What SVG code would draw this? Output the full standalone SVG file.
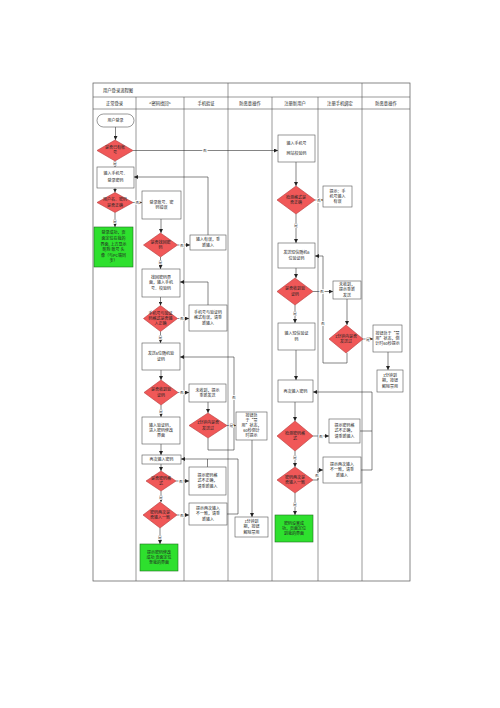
<svg xmlns="http://www.w3.org/2000/svg" width="500" height="708" viewBox="0 0 500 708">
<defs>
<marker id="ar" markerUnits="userSpaceOnUse" markerWidth="4" markerHeight="4" refX="4" refY="2" orient="auto"><path d="M0,0 L4,2 L0,4 z" fill="#222"/></marker>
<style>
.frame{fill:none;stroke:#555;stroke-width:0.7}
.ln{stroke:#555;stroke-width:0.6;fill:none}
.box{fill:#fff;stroke:#555;stroke-width:0.6}
.dia{fill:#f05858;stroke:#b53a3a;stroke-width:0.6}
.ok{fill:#2ee02e;stroke:#1e6e1e;stroke-width:0.6}
.t{font-family:"Noto Sans CJK SC","Noto Sans",sans-serif;font-size:4px;fill:#222;text-anchor:middle}
.h{font-family:"Noto Sans CJK SC","Noto Sans",sans-serif;font-size:4.3px;fill:#222;text-anchor:middle}
.c{stroke:#333;stroke-width:0.6;fill:none;marker-end:url(#ar)}
.cn{stroke:#333;stroke-width:0.6;fill:none}
.l{font-family:"Noto Sans CJK SC","Noto Sans",sans-serif;font-size:3.8px;fill:#333;text-anchor:middle;stroke:#fff;stroke-width:1.4;paint-order:stroke}
</style>
</defs>
<rect width="500" height="708" fill="#fff"/>
<g id="swimlanes">
<rect class="frame" x="93" y="83" width="317" height="498"/>
<line class="ln" x1="93" y1="97" x2="410" y2="97"/>
<line class="ln" x1="93" y1="109" x2="410" y2="109"/>
<line class="ln" x1="136" y1="97" x2="136" y2="581"/>
<line class="ln" x1="184" y1="97" x2="184" y2="581"/>
<line class="ln" x1="228" y1="83" x2="228" y2="581"/>
<line class="ln" x1="272" y1="97" x2="272" y2="581"/>
<line class="ln" x1="318" y1="97" x2="318" y2="581"/>
<line class="ln" x1="362" y1="83" x2="362" y2="581"/>
<text class="h" x="103" y="91.5" style="text-anchor:start">用户登录流程图</text>
<text class="h" x="114.5" y="104.5">正常登录</text>
<text class="h" x="160" y="104.5">&lt;密码找回&gt;</text>
<text class="h" x="206" y="104.5">手机验证</text>
<text class="h" x="250" y="104.5">防恶意操作</text>
<text class="h" x="295" y="104.5">注册新用户</text>
<text class="h" x="340" y="104.5">注册手机绑定</text>
<text class="h" x="386" y="104.5">防恶意操作</text>
</g>
<g id="connectors">
<path class="c" d="M115.5,127 V140"/>
<path class="c" d="M133,150.5 H278"/>
<path class="c" d="M115,161 V167"/>
<path class="c" d="M115,188 V192.5"/>
<path class="c" d="M133,202.5 H142"/>
<path class="c" d="M115,212.5 V227"/>
<path class="c" d="M161,219 V233"/>
<path class="c" d="M177.5,245 H190"/>
<path class="c" d="M208,235 V177 H134"/>
<path class="c" d="M160.5,257 V269"/>
<path class="c" d="M160.5,297 V305.5"/>
<path class="c" d="M177.5,318.5 H189"/>
<path class="c" d="M208,305 V282 H180"/>
<path class="c" d="M160.5,331.5 V343"/>
<path class="c" d="M161,370 V380"/>
<path class="c" d="M178,392.5 H189"/>
<path class="c" d="M208,402 V413"/>
<path class="c" d="M227,425.5 H236"/>
<path class="c" d="M208,438 V450 H234 V357 H180"/>
<path class="c" d="M252,440 V517"/>
<path class="c" d="M161,405 V417"/>
<path class="c" d="M161,444 V455"/>
<path class="c" d="M161,464 V471"/>
<path class="c" d="M176,481 H189"/>
<path class="c" d="M161,491 V502"/>
<path class="c" d="M177,515 H189"/>
<path class="c" d="M160,528 V544"/>
<path class="c" d="M227,514 H238 V459 H181"/>
<path class="cn" d="M207.5,467 V459"/>
<path class="c" d="M296,162 V186"/>
<path class="c" d="M315,200 H323"/>
<path class="c" d="M296,214 V243"/>
<path class="c" d="M296,268 V278"/>
<path class="c" d="M313,291.5 H333"/>
<path class="c" d="M347,299 V325"/>
<path class="c" d="M363,339 H373"/>
<path class="c" d="M388,352 V370"/>
<path class="c" d="M347,353 V363 H323 V256 H315"/>
<path class="c" d="M295,305 V323"/>
<path class="c" d="M296,350 V380"/>
<path class="c" d="M295,402 V421"/>
<path class="c" d="M313,436 H329"/>
<path class="cn" d="M360,431 H372"/>
<path class="c" d="M361,470 H372 V392 H313"/>
<path class="c" d="M295,451 V467"/>
<path class="c" d="M313,480 H318 V470 H323"/>
<path class="c" d="M295,493 V515"/>
<text class="l" x="205" y="152">否</text>
<text class="l" x="115" y="165">是</text>
<text class="l" x="137.5" y="204">否</text>
<text class="l" x="115" y="223">是</text>
<text class="l" x="182" y="246.5">否</text>
<text class="l" x="160.5" y="264">是</text>
<text class="l" x="182" y="320">否</text>
<text class="l" x="160.5" y="339">是</text>
<text class="l" x="182" y="394">否</text>
<text class="l" x="161" y="413">是</text>
<text class="l" x="231.5" y="427">是</text>
<text class="l" x="234" y="399">否</text>
<text class="l" x="181" y="482.5">否</text>
<text class="l" x="161" y="499">是</text>
<text class="l" x="182" y="516.5">否</text>
<text class="l" x="160" y="539">是</text>
<text class="l" x="319" y="201.5">否</text>
<text class="l" x="296" y="227">是</text>
<text class="l" x="322" y="293">否</text>
<text class="l" x="323" y="325">否</text>
<text class="l" x="368" y="340.5">是</text>
<text class="l" x="295" y="315">是</text>
<text class="l" x="321" y="437.5">否</text>
<text class="l" x="295" y="459">是</text>
<text class="l" x="317" y="477">否</text>
<text class="l" x="295" y="506">是</text>
</g>
<g id="start"><rect class="box" x="97" y="114" width="37" height="13" rx="6.5"/><text class="t" x="115.5" y="122">用户登录</text></g>
<g id="d_has"><polygon class="dia" points="115,140 133,150.5 115,161 97,150.5"/><text class="t" x="115" y="149.2">是否已有帐</text><text class="t" x="115" y="154.4">号</text></g>
<g id="b_input"><rect class="box" x="97" y="167" width="37" height="21"/><text class="t" x="115.5" y="175">输入手机号、</text><text class="t" x="115.5" y="182">登录密码</text></g>
<g id="d_pwd"><polygon class="dia" points="115,192.5 133,202.5 115,212.5 97,202.5"/><text class="t" x="115" y="201.3">用户名、密码</text><text class="t" x="115" y="206.5">是否正确</text></g>
<g id="g_ok1"><rect class="ok" x="94" y="227" width="39" height="40"/><text class="t" x="113.5" y="234.4">登录成功，页</text><text class="t" x="113.5" y="240">面定位在我的</text><text class="t" x="113.5" y="245.6">界面, 上方显示</text><text class="t" x="113.5" y="251.2">昵称 账号 头</text><text class="t" x="113.5" y="256.8">像（与PC端同</text><text class="t" x="113.5" y="262.4">步）</text></g>
<g id="b_err"><rect class="box" x="142" y="191" width="39" height="28"/><text class="t" x="161.5" y="203.8">登录账号、密</text><text class="t" x="161.5" y="209">码错误</text></g>
<g id="d_find"><polygon class="dia" points="160.5,233 177.5,245 160.5,257 143.5,245"/><text class="t" x="160.5" y="243.8">是否找回密</text><text class="t" x="160.5" y="249">码</text></g>
<g id="b_find"><rect class="box" x="142" y="269" width="38" height="28"/><text class="t" x="161" y="279.2">找回密码界</text><text class="t" x="161" y="284.4">面，输入手机</text><text class="t" x="161" y="289.6">号、校验码</text></g>
<g id="d_fmt"><polygon class="dia" points="160.5,305.5 177.5,318.5 160.5,331.5 143.5,318.5"/><text class="t" x="160.5" y="314.7">手机号与验证</text><text class="t" x="160.5" y="319.9">码格式是否输</text><text class="t" x="160.5" y="325.1">入正确</text></g>
<g id="b_send"><rect class="box" x="142" y="343" width="38" height="27"/><text class="t" x="161" y="355.3">发送6位随机验</text><text class="t" x="161" y="360.5">证码</text></g>
<g id="d_recv"><polygon class="dia" points="161,380 178,392.5 161,405 144,392.5"/><text class="t" x="161" y="391.3">是否收到验</text><text class="t" x="161" y="396.5">证码</text></g>
<g id="b_code"><rect class="box" x="142" y="417" width="38" height="27"/><text class="t" x="161" y="426.7">输入验证码，</text><text class="t" x="161" y="431.9">进入密码修改</text><text class="t" x="161" y="437.1">界面</text></g>
<g id="b_again"><rect class="box" x="142" y="455" width="39" height="9"/><text class="t" x="161.5" y="461">再次输入密码</text></g>
<g id="d_pfmt"><polygon class="dia" points="161,471 176,481 161,491 146,481"/><text class="t" x="161" y="479.8">是否密码格</text><text class="t" x="161" y="485">式</text></g>
<g id="d_same"><polygon class="dia" points="160,502 177,515 160,528 143,515"/><text class="t" x="160" y="513.8">密码两次是</text><text class="t" x="160" y="519">否输入一致</text></g>
<g id="g_ok2"><rect class="ok" x="140" y="544" width="38" height="27"/><text class="t" x="159" y="553.7">提示密码修改</text><text class="t" x="159" y="558.9">成功 页面定位</text><text class="t" x="159" y="564.1">至我的界面</text></g>
<g id="b_wrong"><rect class="box" x="190" y="235" width="36" height="15"/><text class="t" x="208" y="241.3">输入有误，重</text><text class="t" x="208" y="246.5">新输入</text></g>
<g id="b_fmterr"><rect class="box" x="189" y="305" width="38" height="26"/><text class="t" x="208" y="314.2">手机号与验证码</text><text class="t" x="208" y="319.4">格式有误，请重</text><text class="t" x="208" y="324.6">新输入</text></g>
<g id="b_norecv"><rect class="box" x="189" y="384" width="37" height="18"/><text class="t" x="207.5" y="391.8">未收到，提示</text><text class="t" x="207.5" y="397">重新发送</text></g>
<g id="d_1min"><polygon class="dia" points="208,413 227,425.5 208,438 189,425.5"/><text class="t" x="208" y="424.3">1分钟内是否</text><text class="t" x="208" y="429.5">发送过</text></g>
<g id="b_pfmterr"><rect class="box" x="189" y="467" width="37" height="28"/><text class="t" x="207.5" y="477.2">提示密码格</text><text class="t" x="207.5" y="482.4">式不正确，</text><text class="t" x="207.5" y="487.6">请重新输入</text></g>
<g id="b_notsame"><rect class="box" x="189" y="503" width="38" height="22"/><text class="t" x="208" y="510.2">提示两次输入</text><text class="t" x="208" y="515.4">不一致，请重</text><text class="t" x="208" y="520.6">新输入</text></g>
<g id="b_disable"><rect class="box" x="236" y="412" width="31" height="28"/><text class="t" x="251.5" y="417.4">按钮处</text><text class="t" x="251.5" y="422.4">于“禁</text><text class="t" x="251.5" y="427.4">用”状态，</text><text class="t" x="251.5" y="432.4">60秒倒计</text><text class="t" x="251.5" y="437.4">时提示</text></g>
<g id="b_release"><rect class="box" x="235" y="517" width="33" height="20"/><text class="t" x="251.5" y="523.2">1分钟到</text><text class="t" x="251.5" y="528.4">期，按钮</text><text class="t" x="251.5" y="533.6">解除禁用</text></g>
<g id="b_reg"><rect class="box" x="278" y="135" width="37" height="27"/><text class="t" x="296.5" y="145">输入手机号</text><text class="t" x="296.5" y="155">网站校验码</text></g>
<g id="d_rfmt"><polygon class="dia" points="296,186 315,200 296,214 277,200"/><text class="t" x="296" y="198.8">检测格式是</text><text class="t" x="296" y="204">否正确</text></g>
<g id="b_phoneerr"><rect class="box" x="323" y="186" width="29" height="21"/><text class="t" x="337.5" y="192.7">提示：手</text><text class="t" x="337.5" y="197.9">机号输入</text><text class="t" x="337.5" y="203.1">有误</text></g>
<g id="b_send2"><rect class="box" x="278" y="243" width="37" height="25"/><text class="t" x="296.5" y="254.3">发送短信随机6</text><text class="t" x="296.5" y="259.5">位验证码</text></g>
<g id="d_recv2"><polygon class="dia" points="295,278 313,291.5 295,305 277,291.5"/><text class="t" x="295" y="290.3">是否收到验</text><text class="t" x="295" y="295.5">证码</text></g>
<g id="b_norecv2"><rect class="box" x="333" y="281" width="28" height="18"/><text class="t" x="347" y="286.2">未收到，</text><text class="t" x="347" y="291.4">提示重新</text><text class="t" x="347" y="296.6">发送</text></g>
<g id="d_1min2"><polygon class="dia" points="346,325 363,339 346,353 329,339"/><text class="t" x="346" y="337.8">1分钟内是否</text><text class="t" x="346" y="343">发送过</text></g>
<g id="b_disable2"><rect class="box" x="373" y="325" width="29" height="27"/><text class="t" x="387.5" y="334.7">按钮处于“禁</text><text class="t" x="387.5" y="339.9">用”状态，倒</text><text class="t" x="387.5" y="345.1">计时60秒提示</text></g>
<g id="b_release2"><rect class="box" x="377" y="370" width="26" height="22"/><text class="t" x="390" y="377.2">1分钟到</text><text class="t" x="390" y="382.4">期，按钮</text><text class="t" x="390" y="387.6">解除禁用</text></g>
<g id="b_code2"><rect class="box" x="278" y="323" width="37" height="27"/><text class="t" x="296.5" y="335.3">输入短信验证</text><text class="t" x="296.5" y="340.5">码</text></g>
<g id="b_pwd2"><rect class="box" x="278" y="380" width="35" height="22"/><text class="t" x="295.5" y="392.5">再次输入密码</text></g>
<g id="d_pfmt2"><polygon class="dia" points="295,421 313,436 295,451 277,436"/><text class="t" x="295" y="434.8">检测密码格</text><text class="t" x="295" y="440">式</text></g>
<g id="b_pfmterr2"><rect class="box" x="329" y="419" width="31" height="24"/><text class="t" x="344.5" y="427.2">提示密码格</text><text class="t" x="344.5" y="432.4">式不正确，</text><text class="t" x="344.5" y="437.6">请重新输入</text></g>
<g id="d_same2"><polygon class="dia" points="295,467 313,480 295,493 277,480"/><text class="t" x="295" y="478.8">密码两次是</text><text class="t" x="295" y="484">否输入一致</text></g>
<g id="b_notsame2"><rect class="box" x="323" y="457" width="38" height="26"/><text class="t" x="342" y="466.2">提示两次输入</text><text class="t" x="342" y="471.4">不一致，请重</text><text class="t" x="342" y="476.6">新输入</text></g>
<g id="g_ok3"><rect class="ok" x="275" y="515" width="38" height="27"/><text class="t" x="294" y="524.7">密码设置成</text><text class="t" x="294" y="529.9">功，页面定位</text><text class="t" x="294" y="535.1">到我的界面</text></g>
</svg>
